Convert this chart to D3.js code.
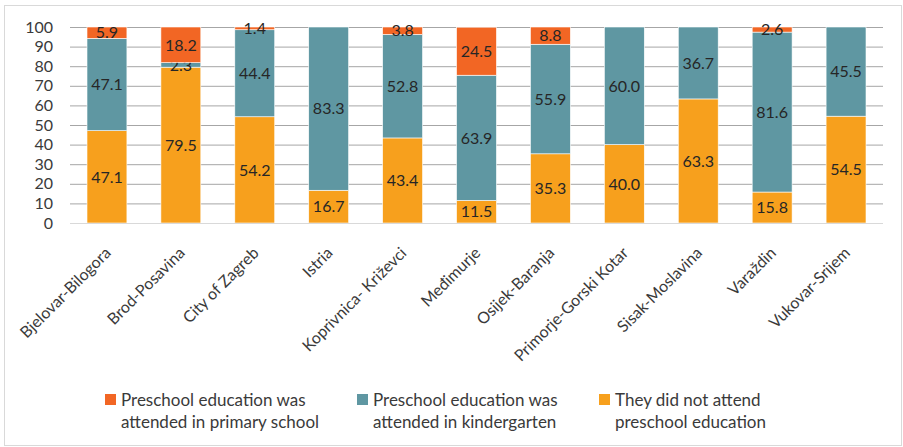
<html>
<head>
<title>Preschool education by county</title>
<script src="https://d3js.org/d3.v7.min.js" charset="utf-8"></script>
<style>
  body { margin: 0; background: #fff; }
  text { font-family: Lato, "Open Sans", sans-serif; fill: #3a3a3a; }
</style>
</head>
<body>
<div id="chart"></div>
<script type="text/javascript">
var counties = ["Bjelovar-Bilogora", "Brod-Posavina", "City of Zagreb", "Istria", "Koprivnica- Križevci",
  "Međimurje", "Osijek-Baranja", "Primorje-Gorski Kotar", "Sisak-Moslavina", "Varaždin", "Vukovar-Srijem"];

var primarySchool = [5.9, 18.2, 1.4, 0, 3.8, 24.5, 8.8, 0, 0, 2.6, 0];
var kindergarten  = [47.1, 2.3, 44.4, 83.3, 52.8, 63.9, 55.9, 60.0, 36.7, 81.6, 45.5];
var notAttended   = [47.1, 79.5, 54.2, 16.7, 43.4, 11.5, 35.3, 40.0, 63.3, 15.8, 54.5];

var yTicks = [0, 10, 20, 30, 40, 50, 60, 70, 80, 90, 100];

var seriesNames = ["Preschool education was|attended in primary school",
  "Preschool education was|attended in kindergarten",
  "They did not attend|preschool education"];

var layout = {
  width: 903, height: 447,
  left: 70, right: 883, top: 27, bottom: 223,
  colors: { notAttended: "#f7a01d", kindergarten: "#5f97a2", primarySchool: "#f26624" }
};

var svg = d3.select("#chart").append("svg")
  .attr("width", layout.width)
  .attr("height", layout.height);

// outer frame
svg.append("rect")
  .attr("x", 4.5).attr("y", 5.5)
  .attr("width", 897).attr("height", 440)
  .attr("fill", "none").attr("stroke", "#d9d9d9");

var x = d3.scaleBand().domain(counties).range([layout.left, layout.right]).paddingInner(0.46).paddingOuter(0.23);
var y = d3.scaleLinear().domain([0, 100]).range([layout.bottom, layout.top]);

// gridlines
svg.append("g").selectAll("line")
  .data(yTicks.filter(function(d) { return d > 0; }))
  .enter().append("line")
  .attr("x1", layout.left).attr("x2", layout.right)
  .attr("y1", function(d) { return y(d) + 0.5; })
  .attr("y2", function(d) { return y(d) + 0.5; })
  .attr("stroke", "#a6a6a6").attr("stroke-width", 1);

// y axis labels
var yAxis = svg.append("g")
  .attr("transform", "translate(" + layout.left + ",0)")
  .call(d3.axisLeft(y).tickValues(yTicks).tickSize(0).tickPadding(17));
yAxis.select(".domain").remove();
yAxis.selectAll("text").style("font-size", "16px").attr("fill", "#3a3a3a").style("font-family", "Lato, sans-serif");

// stacked data
var rows = counties.map(function(c, i) {
  return { county: c, notAttended: notAttended[i], kindergarten: kindergarten[i], primarySchool: primarySchool[i] };
});
var keys = ["notAttended", "kindergarten", "primarySchool"];
var stacked = d3.stack().keys(keys)(rows);

var layers = svg.append("g").selectAll("g")
  .data(stacked)
  .enter().append("g")
  .attr("fill", function(d) { return layout.colors[d.key]; });

layers.selectAll("rect")
  .data(function(d) { return d; })
  .enter().append("rect")
  .attr("x", function(d) { return x(d.data.county); })
  .attr("width", x.bandwidth())
  .attr("y", function(d) { return y(Math.min(d[1], 100)); })
  .attr("height", function(d) { return y(d[0]) - y(Math.min(d[1], 100)); })
  .attr("stroke", "#fff").attr("stroke-width", 0.6);

// value labels
layers.selectAll("text")
  .data(function(d) { return d.filter(function(s) { return s[1] - s[0] > 0; }); })
  .enter().append("text")
  .attr("x", function(d) { return x(d.data.county) + x.bandwidth() / 2; })
  .attr("y", function(d) { return y((d[0] + Math.min(d[1], 100)) / 2); })
  .attr("text-anchor", "middle")
  .attr("dy", ".36em")
  .style("font-size", "16px")
  .style("fill", "#262626")
  .text(function(d) { return (d[1] - d[0]).toFixed(1); });

// baseline
svg.append("line")
  .attr("x1", layout.left).attr("x2", layout.right)
  .attr("y1", y(0) + 0.5).attr("y2", y(0) + 0.5)
  .attr("stroke", "#d9d9d9");

// category labels
svg.append("g").selectAll("text")
  .data(counties)
  .enter().append("text")
  .attr("transform", function(d) { return "translate(" + (x(d) + x.bandwidth() / 2 + 1) + "," + (layout.bottom + 27) + ") rotate(-45)"; })
  .attr("text-anchor", "end")
  .attr("dy", ".35em")
  .style("font-size", "16px")
  .text(function(d) { return d; });

// legend
var legendX = [105, 357, 599];
var legend = svg.append("g").selectAll("g")
  .data(keys.slice().reverse())
  .enter().append("g")
  .attr("transform", function(d, i) { return "translate(" + legendX[i] + ",394)"; });

legend.append("rect")
  .attr("width", 11).attr("height", 11)
  .attr("fill", function(d) { return layout.colors[d]; });

legend.append("text")
  .attr("y", 0)
  .style("font-size", "17px")
  .selectAll("tspan")
  .data(function(d, i) { return seriesNames[i].split("|"); })
  .enter().append("tspan")
  .attr("x", 16)
  .attr("dy", function(d, i) { return i === 0 ? "0.68em" : "1.3em"; })
  .text(function(d) { return d; });
</script>
</body>
</html>
